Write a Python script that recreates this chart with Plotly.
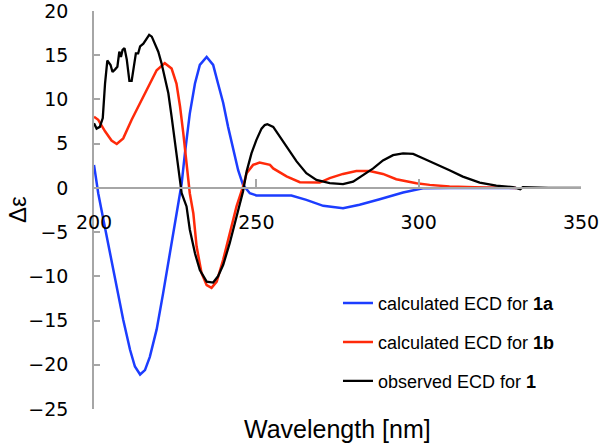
import plotly.graph_objects as go

# calculated ECD for 1a (blue)
wl_1a = [200, 201.3, 202.9, 204.9, 207, 209, 211.1, 212.6, 214.2, 215.7, 217.2, 219.3,
         221.3, 223.4, 225.4, 227, 228, 229.5, 231.1, 232.6, 234.7, 236.7, 238.2, 239.8,
         241.3, 242.9, 244.4, 245.9, 248, 250, 255, 260.8, 265.4, 270.6, 276.7, 281.8,
         288, 295.2, 301.3, 309.5, 330]
ecd_1a = [2.6, -0.6, -3.6, -7.4, -11.1, -14.9, -18.3, -20.2, -21.1, -20.6, -19.1, -16.0,
          -11.9, -7.4, -3.2, 0.5, 3.9, 8.4, 11.8, 13.9, 14.8, 13.9, 11.8, 9.6,
          6.9, 4.3, 2.0, 0.34, -0.6, -0.85, -0.87, -0.87, -1.36, -2.03, -2.3, -1.9,
          -1.28, -0.53, -0.04, 0.0, 0.0]

# calculated ECD for 1b (red)
wl_1b = [200, 201.3, 203.4, 205.4, 207, 209, 211.6, 214.2, 216.7, 219.3, 221.8, 223.9,
         225.4, 226.5, 227.5, 228.5, 229.5, 230.6, 231.6, 233.1, 234.7, 236.2, 237.8,
         239.8, 241.8, 243.9, 245.9, 247, 249, 251, 254.2, 255.2, 259.3, 263.4, 269.5,
         272.6, 276.7, 280.8, 284.9, 289, 293.1, 299.3, 303.4, 309.5, 320, 330]
ecd_1b = [8.05, 7.7, 6.4, 5.35, 4.97, 5.6, 7.7, 9.6, 11.4, 13.3, 14.1, 13.5,
          11.8, 9.2, 6.2, 2.4, -0.6, -2.9, -6.6, -9.6, -11.0, -11.3, -10.6,
          -8.1, -5.1, -2.1, 0.15, 1.66, 2.6, 2.86, 2.6, 2.2, 1.3, 0.64, 0.6,
          1.1, 1.58, 1.92, 1.92, 1.58, 0.98, 0.53, 0.34, 0.15, 0.05, 0.0]

# observed ECD for 1 (black)
wl_obs = [200, 200.8, 201.8, 202.7, 203.4, 204.1, 205.1, 205.7, 206.5, 207.2, 207.8,
          208.3, 208.8, 209.4, 210.1, 210.9, 211.6, 212.3, 212.9, 213.6, 214.2, 215.2,
          216, 217, 217.8, 218.8, 219.8, 220.8, 221.8, 222.9, 223.9, 225, 225.9, 227,
          228.5, 229.5, 231.1, 232.6, 234.7, 236.7, 238.2, 239.8, 241.8, 243.9, 245.9,
          247, 248.5, 250, 251.6, 252.6, 253.4, 255.2, 257.2, 259.8, 262.4, 265.4,
          268.5, 272.6, 276.7, 279.8, 282.9, 286, 289, 292.1, 295.2, 298.3, 301.3,
          305.4, 309.5, 313.6, 318.8, 323.9, 329, 331.3, 332.1, 340, 350]
ecd_obs = [7.3, 6.7, 6.9, 7.9, 11.8, 14.4, 13.9, 13.1, 13.4, 13.7, 15.4,
           14.8, 15.6, 15.8, 14.5, 12.1, 12.1, 13.7, 15.2, 15.2, 16.0, 16.3,
           16.7, 17.3, 17.1, 16.2, 15.4, 14.1, 12.6, 10.7, 8.05, 5.05, 2.0, -0.6,
           -2.1, -4.7, -7.4, -9.3, -10.6, -10.7, -10.0, -8.7, -6.25, -3.2, -0.4,
           1.84, 3.9, 5.4, 6.7, 7.1, 7.2, 6.9, 5.8, 4.3, 3.0, 1.66,
           0.9, 0.53, 0.42, 0.71, 1.47, 2.2, 3.1, 3.7, 3.9, 3.84, 3.35,
           2.7, 2.0, 1.28, 0.6, 0.26, 0.08, -0.15, 0.08, 0.0, 0.0]

x_ticks = [200, 250, 300, 350]
y_ticks = [-25, -20, -15, -10, -5, 0, 5, 10, 15, 20]

axis_gray = "#a6a6a6"

fig = go.Figure()
fig.add_trace(go.Scatter(x=wl_1a, y=ecd_1a, mode="lines", legendgroup="a",
                         name="calculated ECD for <b>1a</b>",
                         line=dict(color="#1c3dff", width=2.5)))
fig.add_trace(go.Scatter(x=wl_1b, y=ecd_1b, mode="lines", legendgroup="b",
                         name="calculated ECD for <b>1b</b>",
                         line=dict(color="#ff2a0a", width=2.5)))
fig.add_trace(go.Scatter(x=wl_obs, y=ecd_obs, mode="lines", legendgroup="c",
                         name="observed ECD for <b>1</b>",
                         line=dict(color="black", width=2.3)))

# x axis crosses at y = 0, like the original
fig.update_xaxes(range=[200, 350], tickvals=x_ticks, anchor="free", position=25 / 45,
                 showline=True, linecolor=axis_gray, linewidth=1.5,
                 ticks="inside", ticklen=8, tickcolor=axis_gray, tickwidth=1.5,
                 showgrid=False, zeroline=False, ticklabelstandoff=18, automargin=False,
                 tickfont=dict(family="DejaVu Sans", size=19, color="black"))
fig.update_yaxes(range=[-25, 20], tickvals=y_ticks,
                 showline=True, linecolor=axis_gray, linewidth=1.5,
                 ticks="inside", ticklen=6, tickcolor=axis_gray, tickwidth=1.5,
                 showgrid=False, zeroline=False, ticklabelstandoff=20, automargin=False,
                 ticklabeloverflow="allow",
                 tickfont=dict(family="DejaVu Sans", size=19, color="black"))

fig.add_annotation(text="Wavelength [nm]", xref="paper", yref="paper", x=0.5, y=-0.05,
                   showarrow=False, yanchor="middle", xanchor="center",
                   font=dict(family="Liberation Sans", size=25, color="black"))
fig.add_annotation(text="Δε", xref="paper", yref="paper", x=-0.158, y=0.5,
                   showarrow=False, textangle=-90, xanchor="center", yanchor="middle",
                   font=dict(family="Liberation Sans", size=24, color="black"))

fig.update_layout(
    width=605, height=447,
    margin=dict(l=94, r=24, t=11, b=38),
    plot_bgcolor="white", paper_bgcolor="white",
    legend=dict(x=0.501, y=0.312, xanchor="left", yanchor="top",
                tracegroupgap=12.5, bgcolor="rgba(0,0,0,0)",
                font=dict(family="Liberation Sans", size=18, color="black")),
)

# drop the default page margin so the figure sits at the window's corner
fig.write_html("out.html", config={"displayModeBar": False},
               post_script="document.body.style.margin='0';")
